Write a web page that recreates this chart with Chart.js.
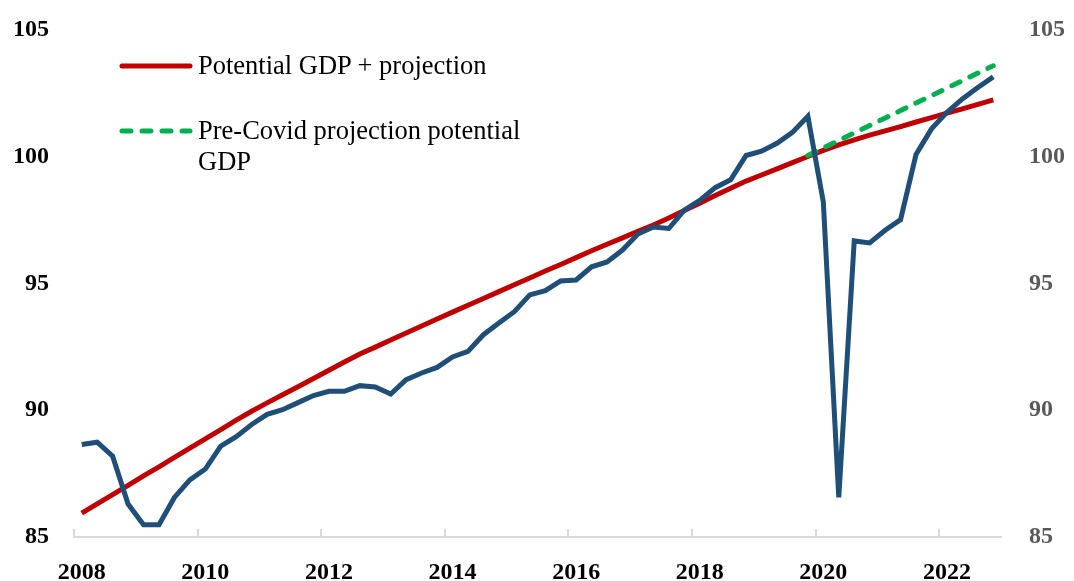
<!DOCTYPE html>
<html>
<head>
<meta charset="utf-8">
<script src="https://cdn.jsdelivr.net/npm/chart.js@4.4.1/dist/chart.umd.min.js"></script>
<style>
  body { margin: 0; background: #fff; }
  #wrap { position: relative; width: 1074px; height: 581px; }
  .leg { position: absolute; font-family: "Liberation Serif", "Times New Roman", serif; font-size: 26.5px; color: #000; line-height: 31px; white-space: nowrap; }
</style>
</head>
<body>
<div id="wrap">
  <canvas id="myChart" width="1074" height="581"></canvas>

  <!-- legend, sits inside the plot area like in the source -->
  <svg style="position:absolute;left:119px;top:59px" width="76" height="14">
    <line x1="3" y1="7" x2="71" y2="7" stroke="#C00000" stroke-width="5" stroke-linecap="round"/>
  </svg>
  <div class="leg" style="left:198px;top:50px">Potential GDP + projection</div>

  <svg style="position:absolute;left:119px;top:124px" width="76" height="14">
    <line x1="3" y1="7" x2="71" y2="7" stroke="#00B050" stroke-width="5" stroke-linecap="round" stroke-dasharray="9 11"/>
  </svg>
  <div class="leg" style="left:198px;top:115px">Pre-Covid projection potential<br>GDP</div>
</div>

<script>
  // quarters 2008Q1 .. 2022Q4
  const years = [2008, 2009, 2010, 2011, 2012, 2013, 2014, 2015, 2016, 2017, 2018, 2019, 2020, 2021, 2022];
  const quarters = [];
  years.forEach(y => { for (let q = 1; q <= 4; q++) quarters.push(y + 'Q' + q); });

  const gdp = [
    88.65, 88.74, 88.19, 86.30,
    85.48, 85.48, 86.56, 87.25,
    87.68, 88.59, 88.96, 89.44,
    89.84, 90.02, 90.30, 90.58,
    90.75, 90.75, 90.97, 90.92,
    90.64, 91.21, 91.47, 91.69,
    92.10, 92.32, 92.98, 93.44,
    93.89, 94.55, 94.72, 95.10,
    95.14, 95.66, 95.85, 96.32,
    96.95, 97.23, 97.17, 97.89,
    98.28, 98.78, 99.09, 100.05,
    100.22, 100.53, 100.96, 101.60,
    98.21, 86.56, 96.68, 96.60,
    97.10, 97.52, 100.09, 101.10,
    101.75, 102.28, 102.73, 103.15
  ];

  // potential GDP + projection
  const potential = [
    85.94, 86.31, 86.67, 87.04,
    87.41, 87.77, 88.14, 88.51,
    88.87, 89.24, 89.61, 89.96,
    90.29, 90.61, 90.93, 91.25,
    91.58, 91.90, 92.22, 92.49,
    92.77, 93.05, 93.32, 93.60,
    93.87, 94.14, 94.41, 94.68,
    94.95, 95.22, 95.49, 95.75,
    96.02, 96.29, 96.55, 96.80,
    97.06, 97.31, 97.58, 97.88,
    98.17, 98.47, 98.76, 99.04,
    99.28, 99.52, 99.77, 100.01,
    100.25, 100.47, 100.67, 100.85,
    101.02, 101.19, 101.37, 101.54,
    101.72, 101.89, 102.07, 102.24
  ];

  // pre-covid projection, starts 2019Q4
  const preCovid = [
    null, null, null, null, null, null, null, null, null, null, null, null,
    null, null, null, null, null, null, null, null, null, null, null, null,
    null, null, null, null, null, null, null, null, null, null, null, null,
    null, null, null, null, null, null, null, null, null, null, null, 100.05,
    100.35, 100.64, 100.94, 101.23,
    101.53, 101.82, 102.12, 102.41,
    102.71, 103.00, 103.30, 103.59
  ];

  const yTicks = [85, 90, 95, 100, 105];

  const serif = '"Liberation Serif", "Times New Roman", serif';

  // small upward tick marks on the x axis every two years
  const axisTicks = {
    id: 'axisTicks',
    afterDraw(chart) {
      const xs = chart.scales.x;
      const c = chart.ctx;
      const half = (xs.getPixelForValue(1) - xs.getPixelForValue(0)) / 2;
      c.save();
      c.strokeStyle = '#D9D9D9';
      c.lineWidth = 2;
      for (let i = 0; i < quarters.length; i += 8) {
        const x = Math.round(xs.getPixelForValue(i) - half);
        c.beginPath();
        c.moveTo(x, xs.top);
        c.lineTo(x, xs.top - 8);
        c.stroke();
      }
      c.restore();
    }
  };

  const ctx = document.getElementById('myChart').getContext('2d');

  new Chart(ctx, {
    type: 'line',
    data: {
      labels: quarters,
      datasets: [{
        label: 'GDP',
        data: gdp,
        borderColor: '#1F4E79',
        borderWidth: 5,
        pointRadius: 0,
        tension: 0
      }, {
        label: 'Pre-Covid projection potential GDP',
        data: preCovid,
        borderColor: '#00B050',
        borderWidth: 5,
        borderDash: [9, 11],
        borderCapStyle: 'round',
        pointRadius: 0,
        tension: 0
      }, {
        label: 'Potential GDP + projection',
        data: potential,
        borderColor: '#C00000',
        borderWidth: 5,
        pointRadius: 0,
        tension: 0
      }]
    },
    options: {
      responsive: false,
      animation: false,
      layout: { padding: { top: 30, left: 0, right: 0, bottom: 0 } },
      plugins: {
        legend: { display: false },
        tooltip: { enabled: false }
      },
      scales: {
        x: {
          type: 'category',
          offset: true,
          grid: { display: false },
          border: { display: true, color: '#D9D9D9', width: 2 },
          ticks: {
            autoSkip: false,
            maxRotation: 0,
            padding: 13,
            color: '#000',
            font: { family: serif, size: 24, weight: 'bold' },
            callback: function (v, i) {
              return i % 8 === 0 ? quarters[i].slice(0, 4) : '';
            }
          },
          afterFit: s => { s.height = 44; }
        },
        y: {
          position: 'left',
          min: 85,
          max: 105,
          // tick marks are hidden, tickLength only sets the label gap
          grid: { display: false, drawTicks: true, tickLength: 25 },
          border: { display: false },
          afterBuildTicks: s => { s.ticks = yTicks.map(v => ({ value: v })); },
          ticks: {
            padding: 0,
            color: '#000',
            font: { family: serif, size: 24, weight: 'bold' }
          },
          afterFit: s => { s.width = 74; }
        },
        y2: {
          position: 'right',
          min: 85,
          max: 105,
          grid: { display: false, drawTicks: true, tickLength: 28 },
          border: { display: false },
          afterBuildTicks: s => { s.ticks = yTicks.map(v => ({ value: v })); },
          ticks: {
            padding: 0,
            color: '#595959',
            font: { family: serif, size: 24, weight: 'bold' }
          },
          afterFit: s => { s.width = 73; }
        }
      }
    },
    plugins: [axisTicks]
  });
</script>
</body>
</html>
